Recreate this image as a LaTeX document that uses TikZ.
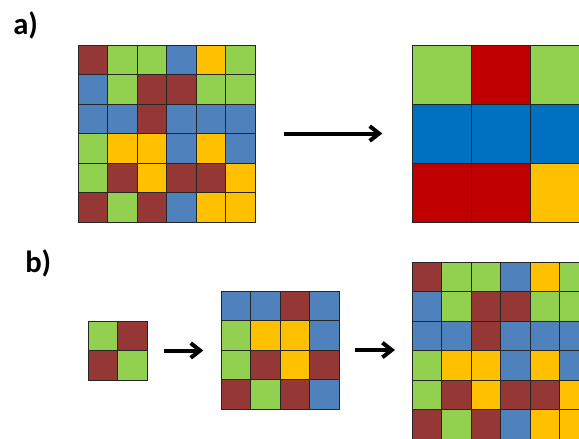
\documentclass[tikz,border=0pt]{standalone}
\usepackage{fontspec}
\setmainfont{Carlito}
\usetikzlibrary{positioning, arrows.meta, fit}
\definecolor{cR}{HTML}{953735}
\definecolor{cG}{HTML}{92D050}
\definecolor{cB}{HTML}{4F81BD}
\definecolor{cY}{HTML}{FFC000}
\definecolor{cr}{HTML}{C00000}
\definecolor{cb}{HTML}{0070C0}

\begin{document}
\begin{tikzpicture}[
        x=0.75pt, y=-0.75pt,
        cell/.style={draw=black!85, line width=0.75pt},
        gridbox/.style={inner sep=0pt, outer sep=0pt},
        arr/.style={-{Straight Barb[length=7pt, width=11pt]}, line width=3pt},
        tag/.style={font=\fontsize{23}{27}\selectfont\bfseries, anchor=base west, inner sep=0pt},
    ]
    \useasboundingbox (0,0) rectangle (579,439);
    \clip (0,0) rectangle (579,439);

    % ===== a) =====
    \node[tag] (TA) at (13,35) {a)};

    \foreach \r/\cols in {0/{R,G,G,B,Y,G}, 1/{B,G,R,R,G,G}, 2/{B,B,R,B,B,B},
                          3/{G,Y,Y,B,Y,B}, 4/{G,R,Y,R,R,Y}, 5/{R,G,R,B,Y,Y}} {
        \foreach \c [count=\i from 0] in \cols {
            \draw[cell, fill=c\c] (78+29.5*\i, 45+29.5*\r) rectangle ++(29.5,29.5);
        }
    }
    \node[gridbox, fit={(78,45) (255,222)}] (A1) {};

    \foreach \r/\cols in {0/{G,r,G}, 1/{b,b,b}, 2/{r,r,Y}} {
        \foreach \c [count=\i from 0] in \cols {
            \draw[cell, fill=c\c] (412.3+59*\i, 45.3+59*\r) rectangle ++(59,59);
        }
    }
    \node[gridbox, fit={(412.3,45.3) (589.3,222.3)}] (A2) {};

    \draw[arr, shorten <=21.75pt, shorten >=22.5pt] (A1.east) -- (A1.east -| A2.west);

    % ===== b) =====
    \node[tag] (TB) at (25,272) {b)};

    \foreach \r/\cols in {0/{G,R}, 1/{R,G}} {
        \foreach \c [count=\i from 0] in \cols {
            \draw[cell, fill=c\c] (88+29.5*\i, 321+29.5*\r) rectangle ++(29.5,29.5);
        }
    }
    \node[gridbox, fit={(88,321) (147,380)}] (B1) {};

    \foreach \r/\cols in {0/{B,B,R,B}, 1/{G,Y,Y,B}, 2/{G,R,Y,R}, 3/{R,G,R,B}} {
        \foreach \c [count=\i from 0] in \cols {
            \draw[cell, fill=c\c] (221.3+29.5*\i, 291+29.5*\r) rectangle ++(29.5,29.5);
        }
    }
    \node[gridbox, fit={(221.3,291) (339.3,409)}] (B2) {};

    \foreach \r/\cols in {0/{R,G,G,B,Y,G}, 1/{B,G,R,R,G,G}, 2/{B,B,R,B,B,B},
                          3/{G,Y,Y,B,Y,B}, 4/{G,R,Y,R,R,Y}, 5/{R,G,R,B,Y,Y}} {
        \foreach \c [count=\i from 0] in \cols {
            \draw[cell, fill=c\c] (412.3+29.5*\i, 262+29.5*\r) rectangle ++(29.5,29.5);
        }
    }
    \node[gridbox, fit={(412.3,262) (589.3,439)}] (B3) {};

    \draw[arr, shorten <=13pt, shorten >=13.5pt] (B1.east) -- (B1.east -| B2.west);
    \draw[arr, shorten <=12pt, shorten >=13pt] (B2.east) -- (B2.east -| B3.west);

\end{tikzpicture}
\end{document}
